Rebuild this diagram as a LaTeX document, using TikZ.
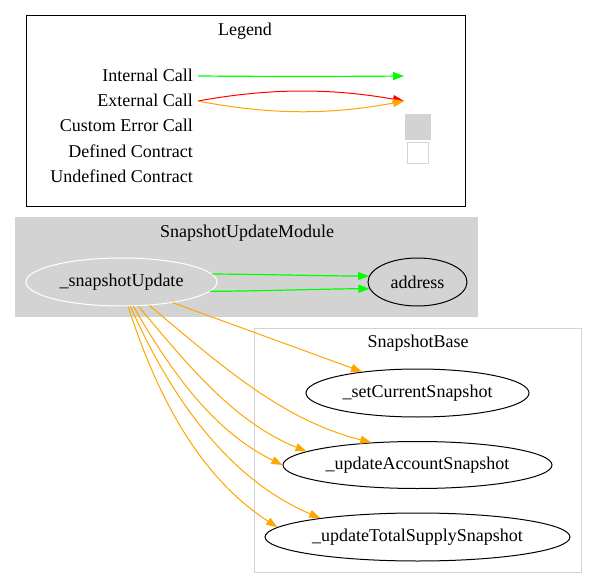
\documentclass[tikz,border=0pt]{standalone}
\usepackage{fontspec}
\setmainfont{Liberation Serif}
\usetikzlibrary{shapes.geometric,arrows.meta}
\definecolor{lgrey}{HTML}{D3D3D3}
\definecolor{callgreen}{HTML}{00FF00}
\definecolor{callorange}{HTML}{FFA500}
\definecolor{callred}{HTML}{FF0000}
\tikzset{
  lbl/.style={anchor=base east,inner sep=0pt,font=\fontsize{18pt}{20pt}\selectfont},
  ttl/.style={inner sep=0pt,font=\fontsize{18pt}{20pt}\selectfont},
  fn/.style={ellipse,draw=black,line width=1pt,inner sep=0pt,font=\fontsize{18pt}{20pt}\selectfont},
  tip/.style={-{Triangle[length=11pt,width=8pt]}},
  gcall/.style={tip,draw=callgreen,line width=1.2pt},
  ocall/.style={tip,draw=callorange,line width=1pt},
  rcall/.style={tip,draw=callred,line width=1pt}
}
\begin{document}
\begin{tikzpicture}[x=1pt,y=-1pt]
\useasboundingbox (0,0) rectangle (597,588);
% Legend
\draw[black,line width=1pt] (26,16) rectangle (465,207);
\node[ttl] (legt) at (245,31) {Legend};
\node[lbl] (l1) at (193,82) {Internal Call};
\node[lbl] (l2) at (193,107) {External Call};
\node[lbl] (l3) at (193,132) {Custom Error Call};
\node[lbl] (l4) at (193,158) {Defined Contract};
\node[lbl] (l5) at (193,183) {Undefined Contract};
\coordinate (ia) at (198,76);
\coordinate (ib) at (404,76);
\coordinate (ea) at (198,101);
\coordinate (eb) at (404,101);
\draw[gcall] (ia) .. controls (270,76.6) and (330,76.6) .. (ib);
\draw[rcall] (ea) .. controls (270,88) and (330,88) .. (eb);
\draw[ocall] (ea) .. controls (270,115) and (330,115) .. (eb);
\node[fill=lgrey,minimum width=26pt,minimum height=26pt,inner sep=0pt] (sq1) at (417.5,127) {};
\node[draw=lgrey,fill=white,line width=1pt,minimum width=21pt,minimum height=21pt,inner sep=0pt] (sq2) at (418,153) {};
% SnapshotUpdateModule cluster
\fill[lgrey] (15,217) rectangle (478,317);
\node[ttl] (mt) at (247,233) {SnapshotUpdateModule};
\node[fn,draw=white,minimum width=191pt,minimum height=48pt] (su) at (121.5,282) {\_snapshotUpdate};
\node[fn,minimum width=99pt,minimum height=48pt] (ad) at (417.5,282) {address};
% SnapshotBase cluster
\draw[lgrey,line width=1pt] (254,328) rectangle (581,572);
\node[ttl] (bt) at (418,343) {SnapshotBase};
\node[fn,minimum width=223pt,minimum height=48pt] (sc) at (417.5,393) {\_setCurrentSnapshot};
\node[fn,minimum width=269pt,minimum height=47pt] (ua) at (417.5,465) {\_updateAccountSnapshot};
\node[fn,minimum width=305pt,minimum height=48pt] (ut) at (417.5,537) {\_updateTotalSupplySnapshot};
% calls
\draw[gcall] (su.5) to[out=0,in=180,looseness=0.6] (ad.173);
\draw[gcall] (su.-6) to[out=0,in=180,looseness=0.6] (ad.-172);
\draw[ocall] (su.-22) -- (sc.159);
\draw[ocall] (su.-40) to[out=-40,in=166,looseness=0.9] (ua.154);
\draw[ocall] (su.-55.5) to[out=-50,in=158,looseness=0.9] (ua.173);
\draw[ocall] (su.-64) to[out=-60,in=154,looseness=0.9] (ua.180);
\draw[ocall] (su.-70.5) to[out=-66,in=157,looseness=0.9] (ut.169);
\draw[ocall] (su.-75) to[out=-72,in=147,looseness=0.9] (ut.176);
\end{tikzpicture}
\end{document}
